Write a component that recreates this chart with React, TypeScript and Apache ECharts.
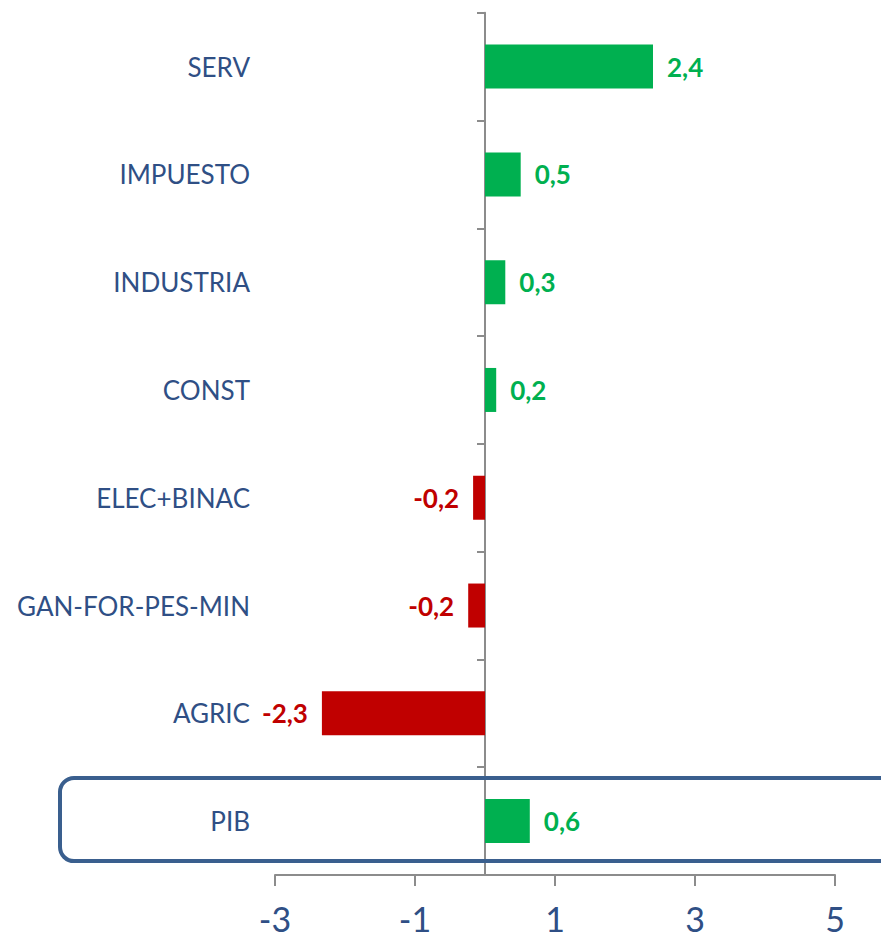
import React, { useEffect, useRef } from "react";
import * as echarts from "echarts";

const categories = ["SERV", "IMPUESTO", "INDUSTRIA", "CONST", "ELEC+BINAC", "GAN-FOR-PES-MIN", "AGRIC", "PIB"];
const values = [2.4, 0.51, 0.29, 0.16, -0.17, -0.24, -2.33, 0.64];
const highlightCategory = "PIB";

const GREEN = "#00B050";
const RED = "#C00000";
const BLUE_TEXT = "#2F4F85";
const BOX = "#3A5F8E";
const GRAY = "#8C8C8C";
const FONT = "Lato, 'Open Sans', sans-serif";

const fmt = (v: number, d = 1) => v.toFixed(d).replace(".", ",");

export default function App() {
  const ref = useRef<HTMLDivElement>(null);
  useEffect(() => {
    if (!ref.current) return;
    const chart = echarts.init(ref.current, undefined, { renderer: "svg" });
    chart.setOption({
      animation: false,
      backgroundColor: "#ffffff",
      grid: { left: 275, right: 46, top: 12.7, bottom: 61, containLabel: false },
      xAxis: {
        type: "value",
        min: -3,
        max: 5,
        interval: 2,
        splitLine: { show: false },
        axisLine: { show: true, onZero: false, lineStyle: { color: GRAY, width: 2 } },
        axisTick: { show: true, inside: false, length: 11, lineStyle: { color: GRAY, width: 2 } },
        axisLabel: {
          color: BLUE_TEXT,
          fontSize: 34,
          lineHeight: 30,
          fontFamily: FONT,
          margin: 28,
          formatter: (v: number) => fmt(v, 0),
        },
      },
      yAxis: [
        {
          type: "category",
          data: categories,
          inverse: true,
          axisLine: { show: true, onZero: true, lineStyle: { color: GRAY, width: 2 } },
          axisTick: { show: true, inside: false, length: 8, lineStyle: { color: GRAY, width: 2 } },
          axisLabel: { show: false },
        },
        {
          type: "category",
          data: categories,
          inverse: true,
          position: "left",
          axisLine: { show: false, onZero: false },
          axisTick: { show: false },
          axisLabel: { show: true, color: BLUE_TEXT, fontSize: 26, fontFamily: FONT, margin: 25 },
        },
      ],
      series: [
        {
          type: "bar",
          yAxisIndex: 0,
          barWidth: 44,
          data: values.map((v) => ({
            value: v,
            itemStyle: { color: v >= 0 ? GREEN : RED },
            label: {
              show: true,
              position: v >= 0 ? "right" : "left",
              distance: 14,
              color: v >= 0 ? GREEN : RED,
              fontSize: 26,
              fontWeight: "bold",
              fontFamily: FONT,
              formatter: () => fmt(v),
            },
          })),
        },
      ],
    });
    const cy = chart.convertToPixel({ yAxisIndex: 0 }, highlightCategory) as number;
    chart.setOption({
      graphic: [
        {
          type: "rect",
          shape: { x: 60, y: cy - 43, width: 860, height: 83, r: 14 },
          style: { fill: "none", stroke: BOX, lineWidth: 4 },
          z: 10,
        },
      ],
    });
    return () => chart.dispose();
  }, []);
  return <div ref={ref} style={{ width: 881, height: 936, position: "absolute", left: 0, top: 0 }} />;
}
